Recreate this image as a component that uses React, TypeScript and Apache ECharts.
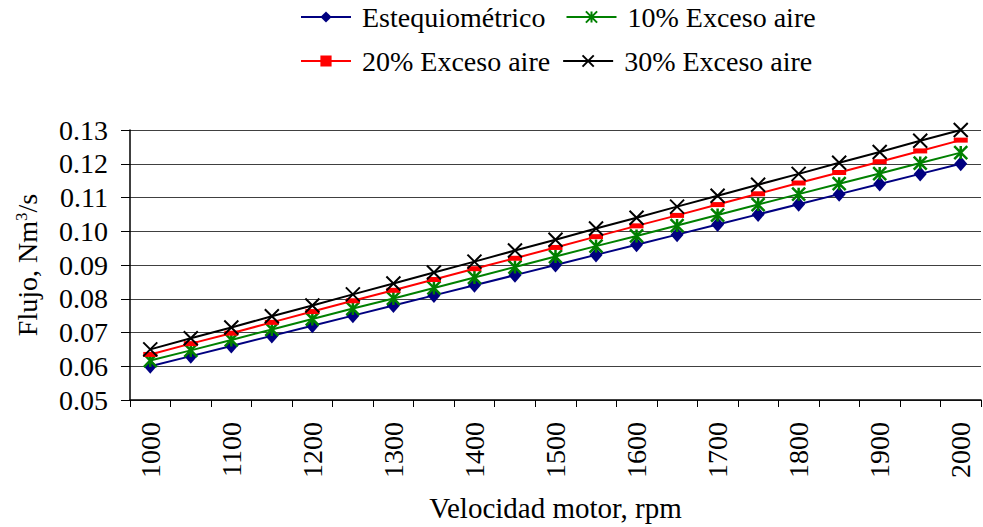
import React, { useEffect, useRef } from "react";
import * as echarts from "echarts";

const categories = [
  "1000", "1050", "1100", "1150", "1200", "1250", "1300", "1350", "1400", "1450", "1500",
  "1550", "1600", "1650", "1700", "1750", "1800", "1850", "1900", "1950", "2000",
];

const estequiometrico = [
  0.060, 0.063, 0.066, 0.069, 0.072, 0.075, 0.078, 0.081, 0.084, 0.087, 0.090,
  0.093, 0.096, 0.099, 0.102, 0.105, 0.108, 0.111, 0.114, 0.117, 0.120,
];
const exceso10 = [
  0.0617, 0.0647, 0.0678, 0.0709, 0.0740, 0.0771, 0.0801, 0.0832, 0.0863, 0.0894, 0.0925,
  0.0956, 0.0986, 0.1017, 0.1048, 0.1079, 0.1110, 0.1141, 0.1171, 0.1202, 0.1233,
];
const exceso20 = [
  0.0635, 0.0667, 0.0698, 0.0730, 0.0762, 0.0794, 0.0825, 0.0857, 0.0889, 0.0920, 0.0952,
  0.0984, 0.1016, 0.1047, 0.1079, 0.1111, 0.1143, 0.1174, 0.1206, 0.1238, 0.1270,
];
const exceso30 = [
  0.0650, 0.0683, 0.0715, 0.0748, 0.0780, 0.0813, 0.0845, 0.0878, 0.0910, 0.0943, 0.0975,
  0.1008, 0.1040, 0.1073, 0.1105, 0.1138, 0.1170, 0.1203, 0.1235, 0.1268, 0.1300,
];

const seriesNames = ["Estequiométrico", "10% Exceso aire", "20% Exceso aire", "30% Exceso aire"];

const FONT = "Liberation Serif";
const FS = 28;

export default function App() {
  const ref = useRef<HTMLDivElement>(null);

  useEffect(() => {
    if (!ref.current) return;
    const chart = echarts.init(ref.current, null, { renderer: "svg" });
    const textStyle = { fontFamily: FONT, fontSize: FS, color: "#000" };
    chart.setOption({
      animation: false,
      backgroundColor: "#fff",
      textStyle: { fontFamily: FONT, fontSize: FS },
      legend: [
        {
          data: [seriesNames[0], seriesNames[1]],
          left: 295,
          top: -2,
          itemWidth: 50,
          itemHeight: 14,
          itemGap: 20,
          textStyle: { fontFamily: FONT, fontSize: FS, color: "#000", padding: [0, 0, 0, 6] },
        },
        {
          data: [seriesNames[2], seriesNames[3]],
          left: 295,
          top: 42,
          itemWidth: 50,
          itemHeight: 14,
          itemGap: 12,
          textStyle: { fontFamily: FONT, fontSize: FS, color: "#000", padding: [0, 0, 0, 6] },
        },
      ],
      grid: { left: 130, right: 2, top: 130, bottom: 127, containLabel: false },
      xAxis: {
        type: "category",
        data: categories,
        boundaryGap: true,
        name: "Velocidad motor, rpm",
        nameLocation: "middle",
        nameGap: 93,
        nameTextStyle: { fontFamily: FONT, fontSize: 29, color: "#000" },
        axisLine: { lineStyle: { color: "#000", width: 1.5 } },
        axisTick: { show: true, interval: 0, length: 7, lineStyle: { color: "#000", width: 1 } },
        axisLabel: { fontFamily: FONT, fontSize: FS, color: "#000", interval: 1, rotate: 90, margin: 22 },
        splitLine: { show: false },
      },
      yAxis: {
        type: "value",
        min: 0.05,
        max: 0.13,
        interval: 0.01,
        name: "{n|Flujo, Nm}{sup|3}{n|/s}",
        nameLocation: "middle",
        nameGap: 88,
        nameRotate: 90,
        nameTextStyle: {
          ...textStyle,
          rich: {
            n: { fontFamily: FONT, fontSize: FS, color: "#000" },
            sup: { fontFamily: FONT, fontSize: 17, color: "#000", verticalAlign: "bottom", padding: [0, 0, 12, 0] },
          },
        },
        axisLine: { show: true, lineStyle: { color: "#000", width: 1.5 } },
        axisTick: { show: true, length: 9, lineStyle: { color: "#000", width: 1 } },
        axisLabel: {
          fontFamily: FONT,
          fontSize: FS,
          color: "#000",
          margin: 22,
          formatter: (v: number) => v.toFixed(2),
        },
        splitLine: { show: true, lineStyle: { color: "#404040", width: 1.2 } },
      },
      series: [
        {
          name: seriesNames[0],
          type: "line",
          data: estequiometrico,
          symbol: "diamond",
          symbolSize: [13, 15],
          lineStyle: { color: "#000080", width: 2 },
          itemStyle: { color: "#000080" },
        },
        {
          name: seriesNames[1],
          type: "line",
          data: exceso10,
          symbol: "path://M5,0L5,10M0,0L10,10M10,0L0,10",
          symbolSize: 13,
          lineStyle: { color: "#008000", width: 2 },
          itemStyle: { color: "transparent", borderColor: "#008000", borderWidth: 2.5 },
        },
        {
          name: seriesNames[2],
          type: "line",
          data: exceso20,
          symbol: "rect",
          symbolSize: [14, 5],
          lineStyle: { color: "#ff0000", width: 2 },
          itemStyle: { color: "#ff0000" },
        },
        {
          name: seriesNames[3],
          type: "line",
          data: exceso30,
          symbol: "path://M0,0L10,10M10,0L0,10",
          symbolSize: 14,
          lineStyle: { color: "#000000", width: 2 },
          itemStyle: { color: "transparent", borderColor: "#000000", borderWidth: 2 },
        },
      ],
    });
    return () => chart.dispose();
  }, []);

  return (
    <div
      ref={ref}
      style={{ position: "fixed", left: 0, top: 0, width: 983, height: 527, background: "#fff" }}
    />
  );
}
